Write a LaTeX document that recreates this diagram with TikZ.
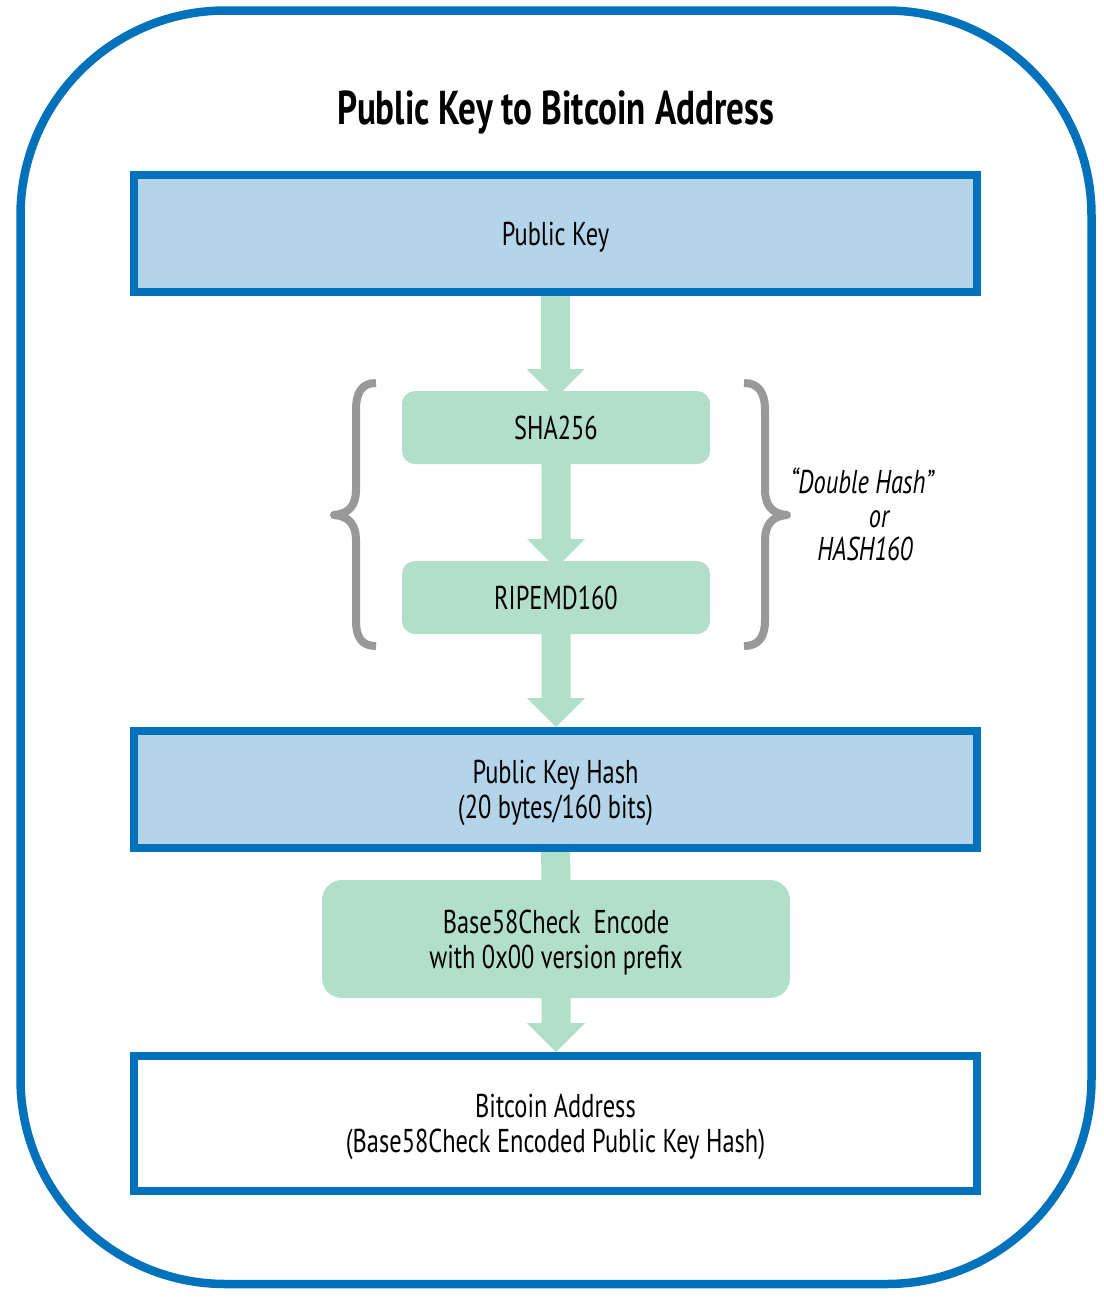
\documentclass[tikz,border=0pt]{standalone}
\usepackage{fontspec}
\setmainfont[FakeStretch=0.74]{PT Sans}
\usetikzlibrary{backgrounds,calc}
\definecolor{frameblue}{RGB}{0,114,188}
\definecolor{boxblue}{RGB}{179,212,233}
\definecolor{hashgreen}{RGB}{178,223,201}
\definecolor{bracegray}{RGB}{153,153,153}
\tikzset{
  bluebox/.style={draw=frameblue, line width=8pt, fill=boxblue, inner sep=0pt, outer sep=0pt,
    minimum width=843pt, minimum height=117pt, align=center, font=\bodyfont, text depth=0pt},
  whitebox/.style={bluebox, fill=white},
  greenbox/.style={fill=hashgreen, rounded corners=13pt, inner sep=0pt, outer sep=0pt,
    minimum width=308pt, minimum height=73pt, align=center, font=\bodyfont, text depth=0pt},
  bracestyle/.style={draw=bracegray, line width=8pt, line join=round},
  notestyle/.style={font=\notefont, inner sep=0pt, anchor=base},
}
\newcommand{\bodyfont}{\fontsize{33}{34.5}\selectfont}
\newcommand{\notefont}{\fontsize{33}{34}\selectfont\itshape}
\newcommand{\fatarrow}[3]{%
  \fill[hashgreen] let \p1=(#1), \p2=(#2) in
    (\x1-14.5pt,\y1) -- (\x1+14.5pt,\y1) -- (\x1+14.5pt,\y2+#3+29pt) -- (\x1+29pt,\y2+#3+29pt)
    -- (\x1,\y2+#3) -- (\x1-29pt,\y2+#3+29pt) -- (\x1-14.5pt,\y2+#3+29pt) -- cycle;}
\begin{document}
\begin{tikzpicture}[x=1pt,y=-1pt]
\useasboundingbox (0,0) rectangle (1103,1309);
% outer frame
\draw[frameblue, line width=8.5pt, rounded corners=205pt] (20.5,10.5) rectangle (1091.5,1284);
% title
\node[font=\fontsize{47.5}{50}\selectfont\bfseries, inner sep=0pt, text depth=0pt] (title) at (556,108) {Public Key to Bitcoin Address};
% boxes
\node[bluebox] (pk) at (555.5,233.5) {Public Key};
\node[greenbox] (sha) at (556,427.5) {SHA256};
\node[greenbox] (rip) at (556,597.5) {RIPEMD160};
\node[bluebox] (pkh) at (555.5,789.5) {Public Key Hash\\(20 bytes/160 bits)};
\node[greenbox, minimum width=468pt, minimum height=118pt, rounded corners=20pt] (b58) at (556,939) {Base58Check\ \ Encode\\with 0x00 version prefix};
\node[whitebox, minimum height=135pt] (ba) at (555.5,1123.5) {Bitcoin Address\\(Base58Check Encoded Public Key Hash)};
% arrows
\begin{scope}[on background layer]
\fatarrow{pk.south}{sha.north}{-7pt}
\fatarrow{sha.south}{rip.north}{-7pt}
\fatarrow{rip.south}{pkh.north}{4pt}
\draw[hashgreen, line width=29pt] (pkh.south) -- (b58.north);
\fatarrow{b58.south}{ba.north}{4pt}
\end{scope}
% braces
\coordinate (lbr) at (334,515);
\coordinate (rbr) at (787,515);
\draw[bracestyle] (376,383) .. controls (362,383) and (356,392) .. (356,410) -- (356,490)
  .. controls (356,505) and (349,514) .. (lbr) .. controls (349,516) and (356,525) .. (356,540)
  -- (356,620) .. controls (356,638) and (362,646) .. (376,646);
\draw[bracestyle] (744,383) .. controls (758,383) and (765,392) .. (765,410) -- (765,490)
  .. controls (765,505) and (772,514) .. (rbr) .. controls (772,516) and (765,525) .. (765,540)
  -- (765,620) .. controls (765,638) and (758,646) .. (744,646);
% note
\node[notestyle] (n1) at (862,493) {“Double Hash”};
\node[notestyle] (n2) at (879,527) {or};
\node[notestyle] (n3) at (865,560) {HASH160};
\end{tikzpicture}
\end{document}
